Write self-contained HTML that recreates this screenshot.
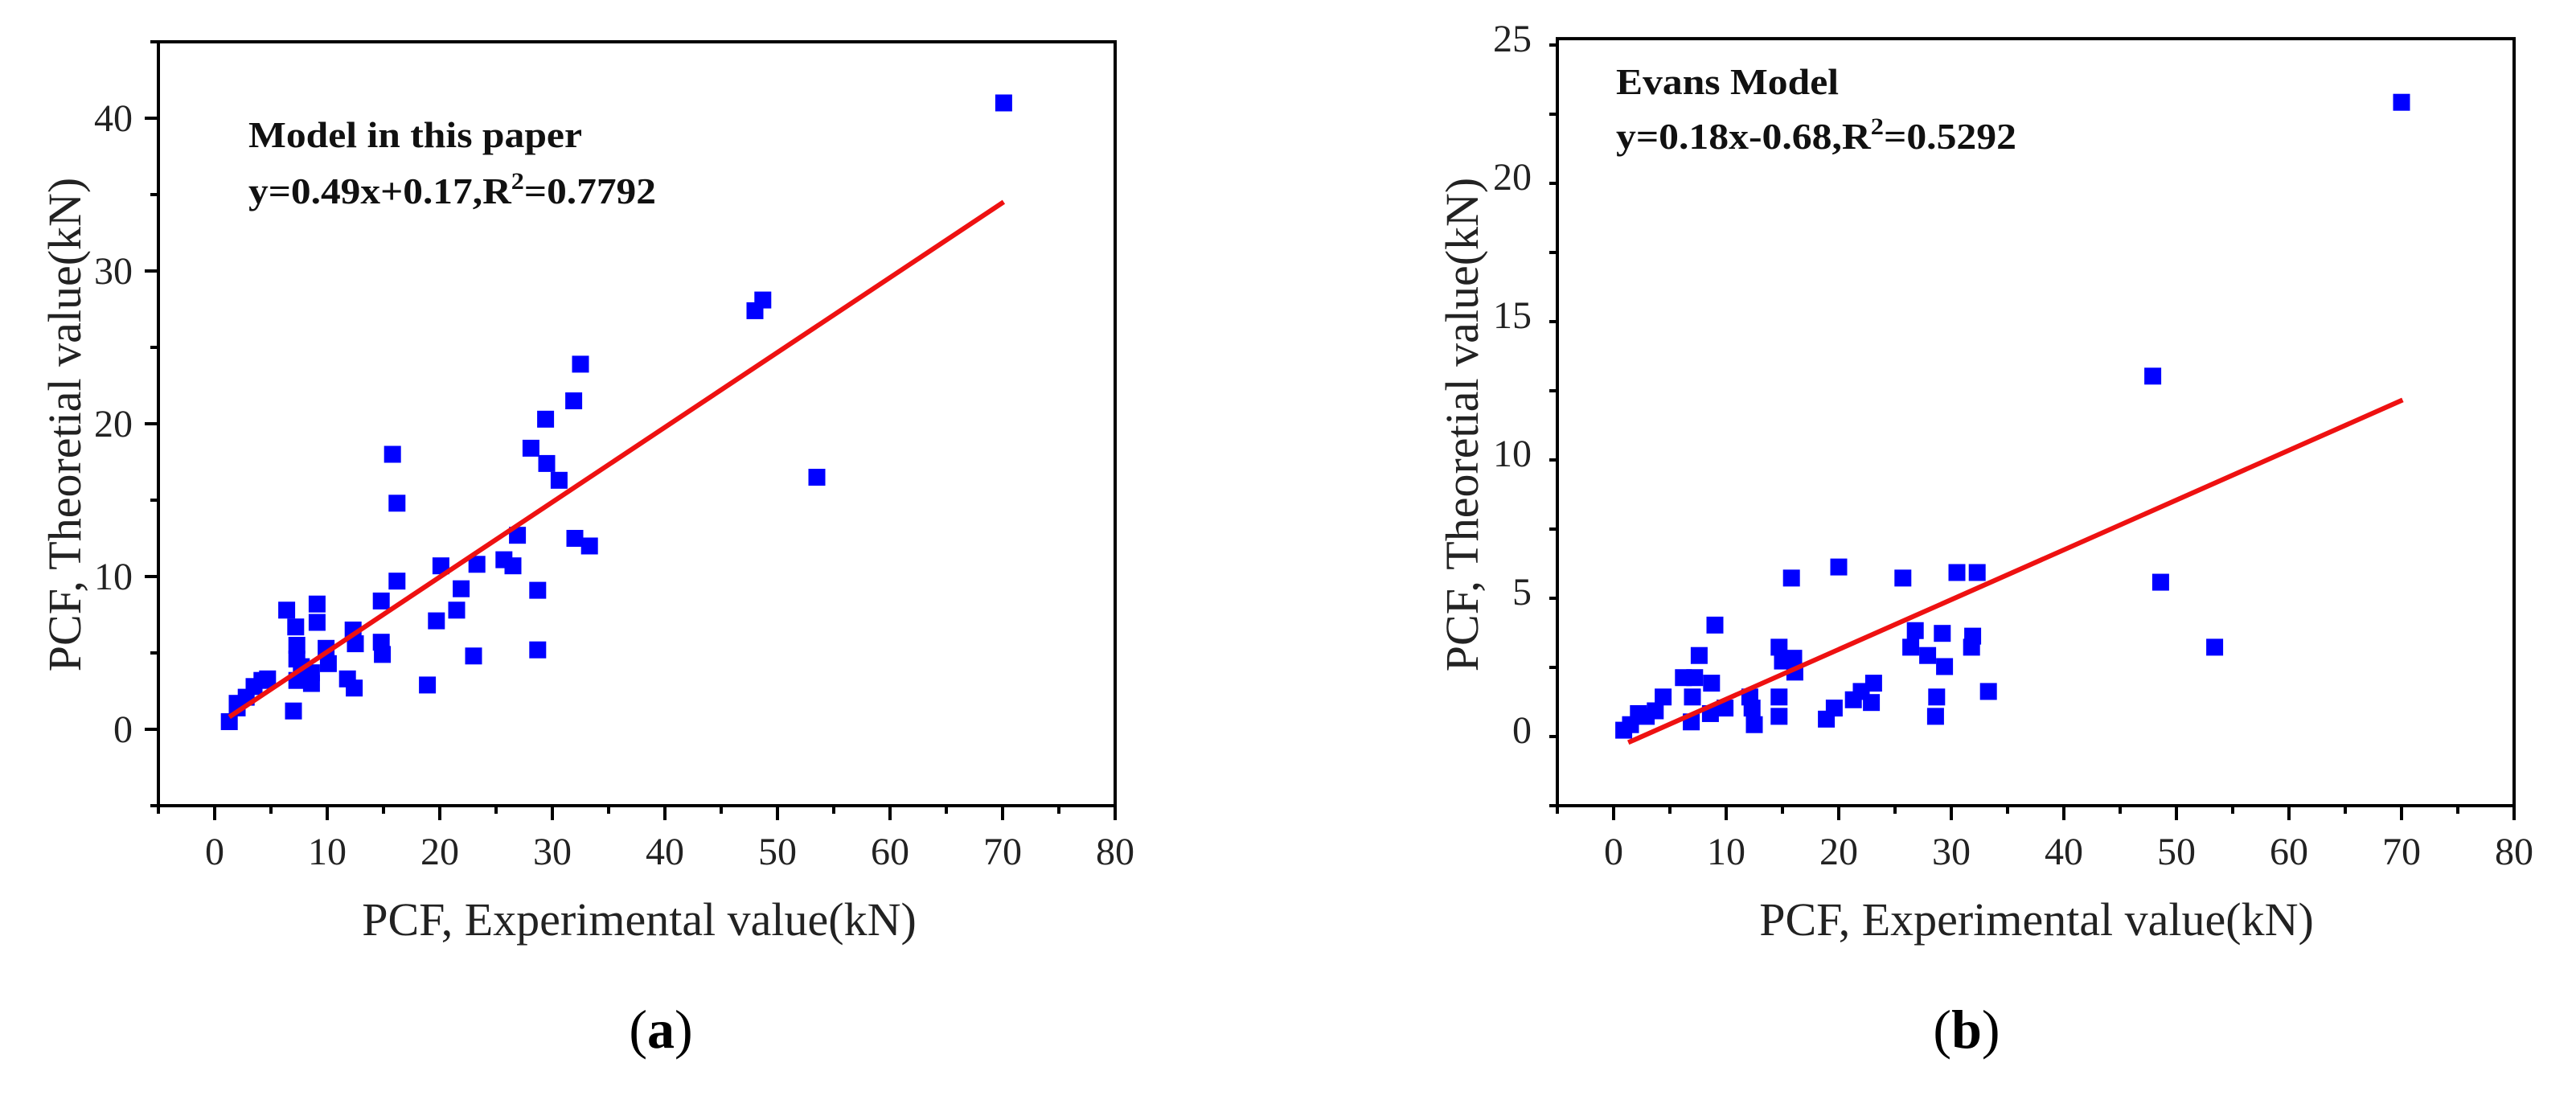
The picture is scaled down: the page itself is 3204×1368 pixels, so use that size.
<!DOCTYPE html>
<html><head><meta charset="utf-8"><style>
html,body{margin:0;padding:0;background:#fff;}
svg{display:block;font-family:"Liberation Serif",serif;}
</style></head><body>
<svg id="fig" width="3204" height="1368" viewBox="0 0 3204 1368" xmlns="http://www.w3.org/2000/svg">
<rect width="3204" height="1368" fill="#fff"/>
</svg>
<script>
const xA=[70.1,48.0,48.7,53.5,32.5,31.9,29.4,28.1,29.5,30.6,32.0,33.3,26.9,25.7,26.5,23.3,20.1,28.7,21.9,21.5,19.7,23.0,28.7,18.9,15.8,16.2,16.2,14.8,14.8,14.9,12.3,12.5,11.8,12.4,9.1,9.1,9.9,10.1,6.4,7.2,7.3,7.3,7.7,7.3,8.6,8.6,7.0,4.2,3.5,2.8,2.0,1.3,2.0,4.7];
const yA=[41.0,27.4,28.1,16.5,23.9,21.5,20.3,18.4,17.4,16.3,12.5,12.0,12.7,11.1,10.7,10.8,10.7,9.1,9.2,7.8,7.1,4.8,5.2,2.9,18.0,14.8,9.7,8.4,5.7,4.9,6.5,5.6,3.3,2.7,8.2,7.0,5.3,4.3,7.8,6.7,5.5,4.6,4.1,3.2,3.7,3.0,1.2,3.2,2.8,2.1,1.7,0.5,1.4,3.3];
const xB=[70.0,47.9,48.6,53.4,20.0,15.8,25.7,30.5,32.3,9.0,26.8,29.2,31.9,26.4,31.8,27.9,29.4,33.3,28.7,28.6,14.7,15.0,16.0,16.1,14.7,14.7,18.9,19.6,23.1,22.0,21.3,22.9,7.6,6.2,7.2,8.7,7.0,6.9,8.6,9.9,12.1,12.3,12.5,4.4,3.7,2.2,2.9,1.5,0.9];
const yB=[22.7,12.8,5.35,3.0,5.9,5.5,5.5,5.7,5.7,3.8,3.6,3.5,3.4,3.0,3.0,2.7,2.3,1.4,1.2,0.5,3.0,2.5,2.6,2.1,1.2,0.5,0.4,0.8,1.7,1.4,1.1,1.0,2.7,1.9,1.9,1.7,1.2,0.3,0.6,0.8,1.2,0.8,0.2,1.2,0.7,0.6,0.5,0.2,0.0];
const fitA=[0.49,0.17];
const fitB=[0.18,-0.68];
const xTicks=[0,10,20,30,40,50,60,70,80];
const yTicksA=[0,10,20,30,40];
const yTicksB=[0,5,10,15,20,25];

const NS="http://www.w3.org/2000/svg";
const svg=document.getElementById('fig');
function mk(tag,attrs,parent){const e=document.createElementNS(NS,tag);for(const k in attrs)e.setAttribute(k,attrs[k]);(parent||svg).appendChild(e);return e;}

function chart(cfg){
  const g=mk('g',{});
  
  
  const X=v=>cfg.x0+(v-cfg.xmin)*cfg.xs;
  const Y=v=>cfg.y0-(v-cfg.ymin)*cfg.ys;
  const L=X(cfg.xmin),R=X(cfg.xmax),T=Y(cfg.ymax),B=Y(cfg.ymin);
  const frame=mk('rect',{x:L,y:T,width:R-L,height:B-T,fill:'none',stroke:'#000','stroke-width':4},g);
  
  
  for(let v=cfg.xmin;v<=cfg.xmax+0.001;v+=5){
    const major=xTicks.includes(v);
    const t=mk('line',{x1:X(v),x2:X(v),y1:B,y2:B+(major?18:10),stroke:'#000','stroke-width':4},g);
    
    
  }
  xTicks.forEach(v=>{
    const t=mk('text',{x:X(v),y:1075,'text-anchor':'middle','font-size':48,fill:'#222'},g);
    t.textContent=v;
    
    
  });
  for(let v=cfg.ymin;v<=cfg.ymax+0.001;v+=cfg.yminor){
    const major=cfg.yt.includes(Math.round(v*100)/100);
    const t=mk('line',{x1:L,x2:L-(major?17:10),y1:Y(v),y2:Y(v),stroke:'#000','stroke-width':4},g);
    
    
  }
  cfg.yt.forEach(v=>{
    const t=mk('text',{x:L-32,y:Y(v)+16,'text-anchor':'end','font-size':48,fill:'#222'},g);
    t.textContent=v;
    
    
  });
  cfg.xs_.forEach((xv,i)=>{
    const p=mk('rect',{x:X(xv)-10.5,y:Y(cfg.ys_[i])-10.5,width:21,height:21,fill:'#0000ff'},g);
    
    
  });
  const xa=1.3,xb=70.1;
  const ln=mk('line',{x1:X(xa),y1:Y(cfg.fit[0]*xa+cfg.fit[1]),x2:X(xb),y2:Y(cfg.fit[0]*xb+cfg.fit[1]),stroke:'#ee1111','stroke-width':6},g);
  
  
  const a1=mk('text',{x:cfg.ax,y:cfg.ay1,'font-size':46,'font-weight':'bold',fill:'#111',textLength:cfg.aw1,lengthAdjust:'spacingAndGlyphs'},g);
  a1.textContent=cfg.title;
  
  
  const a2=mk('text',{x:cfg.ax,y:cfg.ay2,'font-size':46,'font-weight':'bold',fill:'#111',textLength:cfg.aw2,lengthAdjust:'spacingAndGlyphs'},g);
  a2.innerHTML=cfg.eq+',R<tspan dy="-18" font-size="30">2</tspan><tspan dy="18">='+cfg.r2+'</tspan>';
  
  
  const xt=mk('text',{x:cfg.xtx,y:1163,'text-anchor':'middle','font-size':58,fill:'#222'},g);
  xt.textContent='PCF, Experimental value(kN)';
  
  
  const yt=mk('text',{x:0,y:0,'text-anchor':'middle','font-size':58,fill:'#222',transform:`translate(${cfg.ytx},528) rotate(-90)`},g);
  yt.textContent='PCF, Theoretial value(kN)';
  
  
  const pl=mk('text',{x:cfg.plx,y:1303,'text-anchor':'middle','font-size':68,fill:'#000'},g);
  pl.innerHTML='(<tspan font-weight="bold">'+cfg.label+'</tspan>)';
  
  
}

chart({name:'chart-a',x0:197,xmin:-5,xmax:80,xs:14.0,y0:1002,ymin:-5,ymax:45,ys:19.0,yminor:5,yt:yTicksA,
  xs_:xA,ys_:yA,fit:fitA,title:'Model in this paper',eq:'y=0.49x+0.17',r2:'0.7792',
  ax:309,ay1:183,ay2:253,aw1:415,aw2:507,xtx:795,ytx:100,plx:822,label:'a'});
chart({name:'chart-b',x0:1937,xmin:-5,xmax:80,xs:14.0,y0:1002,ymin:-2.73,ymax:25,ys:34.4,yminor:2.5,yt:yTicksB,
  xs_:xB,ys_:yB,fit:fitB,title:'Evans Model',eq:'y=0.18x-0.68',r2:'0.5292',
  ax:2010,ay1:117,ay2:185,aw1:277,aw2:498,xtx:2533,ytx:1838,plx:2446,label:'b'});
</script>
</body></html>
